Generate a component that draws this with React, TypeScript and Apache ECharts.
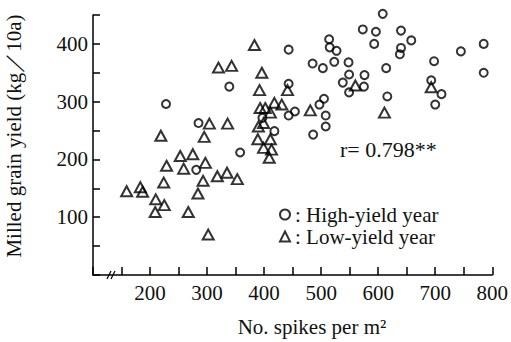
import React, { useEffect, useRef } from "react";
import * as echarts from "echarts";

// Data: [No. spikes per m², milled grain yield kg/10a]
const highYieldYear: [number, number][] = [
  [443, 390], [339, 326], [443, 331], [228, 296], [454, 283], [443, 276], [397, 272],
  [285, 263], [418, 249], [358, 212], [281, 182], [608, 452], [573, 425], [596, 421],
  [640, 423], [658, 406], [593, 400], [514, 408], [515, 394], [527, 388], [640, 393],
  [638, 382], [785, 400], [745, 387], [785, 350], [698, 370], [485, 366], [503, 358],
  [523, 369], [548, 368], [614, 358], [549, 347], [576, 346], [538, 333], [575, 326],
  [549, 316], [693, 337], [711, 313], [700, 295], [616, 309], [505, 305], [497, 295],
  [508, 276], [508, 257], [486, 243],
];

const lowYieldYear: [number, number][] = [
  [383, 398], [320, 359], [343, 362], [396, 350], [392, 320], [441, 320], [393, 289],
  [402, 289], [418, 298], [431, 295], [411, 281], [481, 285], [390, 257], [399, 263],
  [389, 235], [411, 235], [399, 220], [413, 217], [409, 203], [304, 262], [336, 262],
  [219, 241], [295, 239], [560, 328], [693, 325], [611, 281], [159, 145], [183, 152],
  [187, 144], [229, 189], [224, 160], [210, 131], [225, 121], [209, 109], [253, 206],
  [275, 209], [259, 184], [297, 194], [293, 163], [284, 141], [267, 109], [302, 70],
  [318, 171], [335, 177], [353, 166],
];

const xTickLabels = [200, 300, 400, 500, 600, 700, 800];
const yTickLabels = [100, 200, 300, 400];
const seriesNames = ["High-yield year", "Low-yield year"];
const correlationText = "r= 0.798**";
const xAxisTitle = "No. spikes per m²";
const yAxisTitle = "Milled grain yield (kg／10a)";

const FONT = "'Liberation Serif', 'DejaVu Serif', serif";
const TICK = "#000";

export default function App() {
  const ref = useRef<HTMLDivElement>(null);

  useEffect(() => {
    if (!ref.current) return;
    const chart = echarts.init(ref.current, undefined, { renderer: "svg" });
    const markerStyle = {
      color: "rgba(0,0,0,0)",
      borderColor: "#000",
      borderWidth: 2,
    };
    chart.setOption({
      animation: false,
      backgroundColor: "#fff",
      grid: { left: 93, right: 17, top: 15, bottom: 67, containLabel: false },
      xAxis: {
        type: "value",
        min: 100,
        max: 800,
        interval: 50,
        splitLine: { show: false },
        axisLine: { show: true, lineStyle: { color: "#000", width: 1.5 } },
        axisTick: { show: true, inside: true, length: 8, lineStyle: { color: TICK, width: 1.5 } },
        axisLabel: {
          color: "#111",
          fontFamily: FONT,
          fontSize: 21,
          margin: 7,
          formatter: (v: number) => (xTickLabels.includes(v) ? String(v) : ""),
        },
      },
      yAxis: {
        type: "value",
        min: 0,
        max: 450,
        interval: 50,
        splitLine: { show: false },
        axisLine: { show: true, lineStyle: { color: "#000", width: 1.5 } },
        axisTick: { show: true, inside: true, length: 7, lineStyle: { color: TICK, width: 1.5 } },
        axisLabel: {
          color: "#111",
          fontFamily: FONT,
          fontSize: 21,
          margin: 5,
          formatter: (v: number) => (yTickLabels.includes(v) ? String(v) : ""),
        },
      },
      legend: {
        orient: "vertical",
        left: 279,
        top: 204,
        padding: 0,
        itemWidth: 10,
        itemHeight: 10,
        itemGap: 1,
        data: [
          { name: seriesNames[0], icon: "circle" },
          { name: seriesNames[1], icon: "triangle" },
        ],
        itemStyle: markerStyle,
        formatter: (name: string) => ": " + name,
        textStyle: { color: "#111", fontFamily: FONT, fontSize: 21, lineHeight: 21 },
      },
      series: [
        {
          name: seriesNames[0],
          type: "scatter",
          symbol: "circle",
          symbolSize: 8,
          clip: false,
          itemStyle: markerStyle,
          data: highYieldYear,
        },
        {
          name: seriesNames[1],
          type: "scatter",
          symbol: "triangle",
          symbolSize: [11, 10],
          clip: false,
          itemStyle: markerStyle,
          data: lowYieldYear,
        },
      ],
      graphic: [
        {
          type: "text",
          left: 340,
          top: 138,
          style: { text: correlationText, font: `22px ${FONT}`, fill: "#111" },
        },
        {
          type: "text",
          x: 312,
          y: 327,
          style: {
            text: xAxisTitle,
            font: `21px ${FONT}`,
            fill: "#111",
            align: "center",
            verticalAlign: "middle",
          },
        },
        {
          type: "text",
          x: 14,
          y: 136,
          rotation: Math.PI / 2,
          style: {
            text: yAxisTitle,
            font: `21px ${FONT}`,
            fill: "#111",
            align: "center",
            verticalAlign: "middle",
          },
        },
        // axis break mark
        { type: "rect", shape: { x: 109, y: 272, width: 6, height: 6 }, style: { fill: "#fff" } },
        { type: "line", shape: { x1: 107, y1: 279, x2: 111, y2: 271 }, style: { stroke: "#000", lineWidth: 1.2 } },
        { type: "line", shape: { x1: 111, y1: 279, x2: 115, y2: 271 }, style: { stroke: "#000", lineWidth: 1.2 } },
      ],
    });
    return () => chart.dispose();
  }, []);

  return (
    <div
      ref={ref}
      style={{ position: "fixed", left: 0, top: 0, width: 511, height: 342, background: "#fff" }}
    />
  );
}
